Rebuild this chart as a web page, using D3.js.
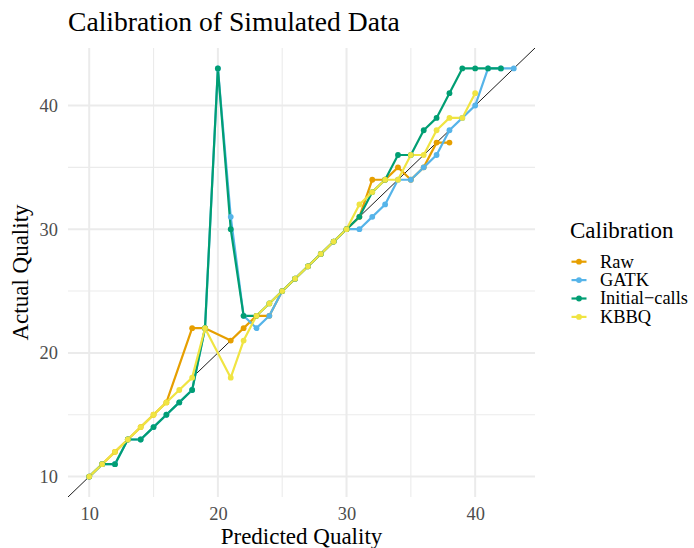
<!DOCTYPE html>
<html>
<head>
<meta charset="utf-8">
<script src="https://cdn.jsdelivr.net/npm/d3@7"></script>
<style>
  html, body { margin: 0; padding: 0; background: #fff; }
  svg text { font-family: "Liberation Serif", "Times New Roman", serif; }
</style>
</head>
<body>
<svg id="chart" width="694" height="548"></svg>
<script>
// Predicted quality (x) per calibration method, with the observed quality (y)
const rawX = [10, 11, 12, 13, 14, 15, 16, 18, 19, 21, 22, 23, 24, 25, 26, 27, 28, 29, 30, 31, 32, 33, 34, 35, 36, 37, 38];
const rawY = [10, 11, 12, 13, 14, 15, 16, 22, 22, 21, 22, 23, 23, 25, 26, 27, 28, 29, 30, 31, 34, 34, 35, 34, 35, 37, 37];

const gatkX = [10, 11, 12, 13, 14, 15, 16, 17, 18, 19, 20, 21, 22, 23, 24, 25, 26, 27, 28, 29, 30, 31, 32, 33, 34, 35, 36, 37, 38, 39, 40, 41, 42, 43];
const gatkY = [10, 11, 11, 13, 13, 14, 15, 16, 17, 22, 43, 31, 23, 22, 23, 25, 26, 27, 28, 29, 30, 30, 31, 32, 34, 34, 35, 36, 38, 39, 40, 43, 43, 43];

const initX = [10, 11, 12, 13, 14, 15, 16, 17, 18, 19, 20, 21, 22, 23, 24, 25, 26, 27, 28, 29, 30, 31, 32, 33, 34, 35, 36, 37, 38, 39, 40, 41, 42];
const initY = [10, 11, 11, 13, 13, 14, 15, 16, 17, 22, 43, 30, 23, 23, 24, 25, 26, 27, 28, 29, 30, 31, 33, 34, 36, 36, 38, 39, 41, 43, 43, 43, 43];

const kbbqX = [10, 11, 12, 13, 14, 15, 16, 17, 18, 19, 21, 22, 23, 24, 25, 26, 27, 28, 29, 30, 31, 32, 33, 34, 35, 36, 37, 38, 39, 40];
const kbbqY = [10, 11, 12, 13, 14, 15, 16, 17, 18, 22, 18, 21, 23, 24, 25, 26, 27, 28, 29, 30, 32, 33, 34, 34, 36, 36, 38, 39, 39, 41];

const seriesNames = ["Raw", "GATK", "Initial\u2212calls", "KBBQ"];
const seriesColors = ["#E69F00", "#56B4E9", "#009E73", "#F0E442"];
const majorTicks = [10, 20, 30, 40];
const minorTicks = [15, 25, 35];

const series = [
  { name: seriesNames[0], color: seriesColors[0], pts: rawX.map((x, i) => [x, rawY[i]]) },
  { name: seriesNames[1], color: seriesColors[1], pts: gatkX.map((x, i) => [x, gatkY[i]]) },
  { name: seriesNames[2], color: seriesColors[2], pts: initX.map((x, i) => [x, initY[i]]) },
  { name: seriesNames[3], color: seriesColors[3], pts: kbbqX.map((x, i) => [x, kbbqY[i]]) }
];

const svg = d3.select("#chart");
const panel = { left: 68, right: 535, top: 48, bottom: 497 };

// ggplot-style 5% expansion around the data range
const allX = series.flatMap(s => s.pts.map(p => p[0]));
const allY = series.flatMap(s => s.pts.map(p => p[1]));
const padX = (d3.max(allX) - d3.min(allX)) * 0.05;
const padY = (d3.max(allY) - d3.min(allY)) * 0.05;
const xDom = [d3.min(allX) - padX, d3.max(allX) + padX];
const yDom = [d3.min(allY) - padY, d3.max(allY) + padY];

const x = d3.scaleLinear().domain(xDom).range([panel.left, panel.right]);
const y = d3.scaleLinear().domain(yDom).range([panel.bottom, panel.top]);

// grid
const grid = svg.append("g");
grid.selectAll(".vminor").data(minorTicks).join("line")
  .attr("x1", d => x(d)).attr("x2", d => x(d))
  .attr("y1", panel.top).attr("y2", panel.bottom)
  .attr("stroke", "#ebebeb").attr("stroke-width", 1.1);
grid.selectAll(".hminor").data(minorTicks).join("line")
  .attr("y1", d => y(d)).attr("y2", d => y(d))
  .attr("x1", panel.left).attr("x2", panel.right)
  .attr("stroke", "#ebebeb").attr("stroke-width", 1.1);
grid.selectAll(".vmajor").data(majorTicks).join("line")
  .attr("x1", d => x(d)).attr("x2", d => x(d))
  .attr("y1", panel.top).attr("y2", panel.bottom)
  .attr("stroke", "#ebebeb").attr("stroke-width", 2);
grid.selectAll(".hmajor").data(majorTicks).join("line")
  .attr("y1", d => y(d)).attr("y2", d => y(d))
  .attr("x1", panel.left).attr("x2", panel.right)
  .attr("stroke", "#ebebeb").attr("stroke-width", 2);

// identity reference line y = x, clipped to the panel
svg.append("clipPath").attr("id", "clip").append("rect")
  .attr("x", panel.left).attr("y", panel.top)
  .attr("width", panel.right - panel.left).attr("height", panel.bottom - panel.top);
const lo = Math.max(xDom[0], yDom[0]), hi = Math.min(xDom[1], yDom[1]);
svg.append("line")
  .attr("clip-path", "url(#clip)")
  .attr("x1", x(lo)).attr("y1", y(lo)).attr("x2", x(hi)).attr("y2", y(hi))
  .attr("stroke", "#000").attr("stroke-width", 0.9);

// series lines, then points
const line = d3.line().x(d => x(d[0])).y(d => y(d[1]));
svg.append("g").selectAll("path").data(series).join("path")
  .attr("d", d => line(d.pts))
  .attr("fill", "none").attr("stroke", d => d.color)
  .attr("stroke-width", 2.2).attr("stroke-linejoin", "round");
svg.append("g").selectAll("g").data(series).join("g")
  .attr("fill", d => d.color)
  .selectAll("circle").data(d => d.pts).join("circle")
  .attr("cx", d => x(d[0])).attr("cy", d => y(d[1])).attr("r", 2.9);

// axes (labels only, no axis lines or ticks)
const xAxis = svg.append("g").attr("transform", `translate(0,${panel.bottom})`)
  .call(d3.axisBottom(x).tickValues(majorTicks).tickSize(0).tickPadding(0));
xAxis.select(".domain").remove();
xAxis.selectAll("text").attr("y", 23).attr("dy", 0)
  .attr("fill", "#4d4d4d").style("font-size", "18.4px");

const yAxis = svg.append("g").attr("transform", `translate(${panel.left},0)`)
  .call(d3.axisLeft(y).tickValues(majorTicks).tickSize(0).tickPadding(0));
yAxis.select(".domain").remove();
yAxis.selectAll("text").attr("x", -10).attr("dy", "0.32em")
  .attr("fill", "#4d4d4d").style("font-size", "18.4px");

// titles
svg.append("text").attr("x", 68).attr("y", 31)
  .style("font-size", "27.6px").attr("fill", "#000")
  .text("Calibration of Simulated Data");
svg.append("text").attr("x", (panel.left + panel.right) / 2).attr("y", 543.5)
  .attr("text-anchor", "middle").style("font-size", "23px").attr("fill", "#000")
  .text("Predicted Quality");
svg.append("text")
  .attr("transform", `translate(28,${(panel.top + panel.bottom) / 2}) rotate(-90)`)
  .attr("text-anchor", "middle").style("font-size", "23px").attr("fill", "#000")
  .text("Actual Quality");

// legend
const legend = svg.append("g");
legend.append("text").attr("x", 570).attr("y", 237.5)
  .style("font-size", "23px").attr("fill", "#000").text("Calibration");
const items = legend.selectAll(".item").data(series).join("g")
  .attr("transform", (d, i) => `translate(0,${261.7 + i * 18.4})`);
items.append("line").attr("x1", 571.5).attr("x2", 586.5)
  .attr("stroke", d => d.color).attr("stroke-width", 2.2);
items.append("circle").attr("cx", 579).attr("cy", 0).attr("r", 2.9).attr("fill", d => d.color);
items.append("text").attr("x", 600).attr("y", 0).attr("dy", "0.32em")
  .style("font-size", "18.4px").attr("fill", "#000").text(d => d.name);
</script>
</body>
</html>
